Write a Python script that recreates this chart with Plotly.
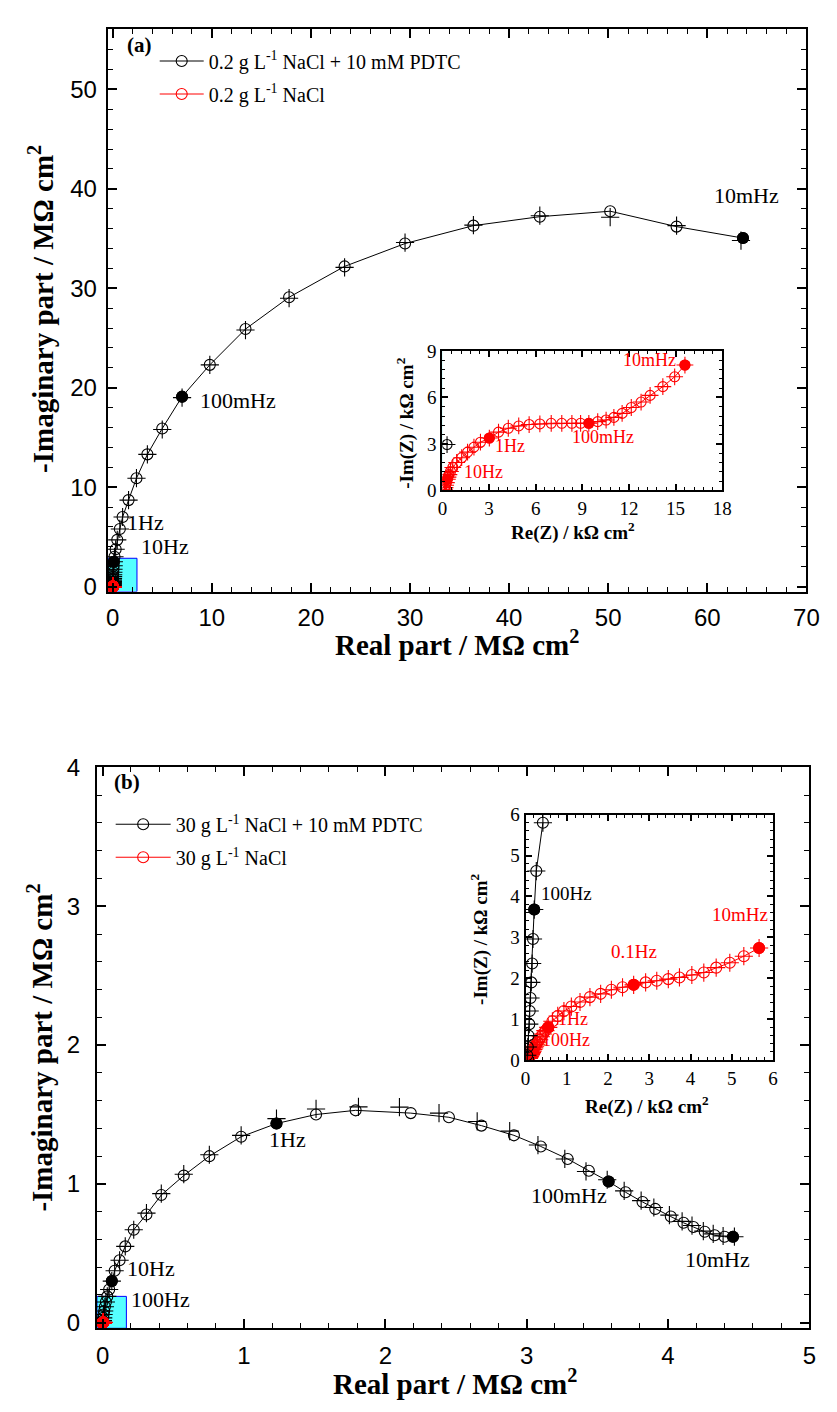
import plotly.graph_objects as go

W, H = 837, 1412

# ---------------- Panel (a): 0.2 g/L NaCl ----------------
# PDTC-containing solution, MΩ cm², from 10 mHz (index 0) upward in frequency
a_pdtc_re = [63.6, 56.9, 50.2, 43.1, 36.4, 29.5, 23.4, 17.8, 13.4, 9.8,
             7.0, 5.0, 3.5, 2.4, 1.6, 1.0, 0.72, 0.46, 0.30, 0.18,
             0.12, 0.10, 0.08, 0.065, 0.05, 0.04, 0.03, 0.025, 0.02, 0.015,
             0.012, 0.008, 0.005, 0.003, 0.0003]
a_pdtc_im = [35.05, 36.2, 37.75, 37.2, 36.3, 34.5, 32.2, 29.1, 25.9, 22.3,
             19.1, 15.9, 13.3, 10.9, 8.7, 7.0, 5.8, 4.7, 3.75, 3.0,
             2.5, 2.1, 1.75, 1.45, 1.2, 1.0, 0.8, 0.65, 0.5, 0.4,
             0.3, 0.2, 0.1, 0.05, 0.003]
a_pdtc_fit_re = [63.4, 56.9, 50.2, 43.1, 36.4, 29.5, 23.4, 17.8, 13.4, 9.8,
                 7.0, 5.0, 3.5, 2.4, 1.6, 1.0, 0.72, 0.46, 0.30, 0.18,
                 0.12, 0.10, 0.08, 0.065, 0.05, 0.04, 0.03, 0.025, 0.02, 0.015,
                 0.012, 0.008, 0.005, 0.003, 0.0003]
a_pdtc_fit_im = [34.8, 36.3, 37.15, 37.3, 36.35, 34.6, 32.1, 29.0, 25.8, 22.3,
                 19.0, 15.8, 13.3, 10.9, 8.7, 7.0, 5.8, 4.7, 3.75, 3.0,
                 2.5, 2.1, 1.75, 1.45, 1.2, 1.0, 0.8, 0.65, 0.5, 0.4,
                 0.3, 0.2, 0.1, 0.05, 0.003]
a_pdtc_decades = [0, 10, 20, 30]          # 10 mHz, 100 mHz, 1 Hz, 10 Hz

# NaCl-only solution, kΩ cm² (inset), from 10 mHz upward
a_nacl_re_k = [15.6, 14.94, 14.18, 13.36, 12.78, 12.15, 11.56, 11.03, 10.53, 9.99,
               9.42, 8.89, 8.33, 7.68, 7.0, 6.27, 5.58, 4.91, 4.24, 3.61,
               3.02, 2.45, 2.03, 1.62, 1.24, 0.92, 0.67, 0.52, 0.42, 0.36,
               0.32, 0.26, 0.21, 0.17, 0.14]
a_nacl_im_k = [8.09, 7.33, 6.70, 6.13, 5.70, 5.35, 4.97, 4.71, 4.54, 4.44,
               4.33, 4.33, 4.33, 4.33, 4.33, 4.29, 4.25, 4.16, 4.01, 3.76,
               3.38, 3.11, 2.79, 2.47, 2.11, 1.80, 1.48, 1.22, 1.02, 0.86,
               0.72, 0.5, 0.33, 0.18, 0.08]
a_nacl_decades = [0, 10, 20, 30]

# PDTC solution, high-frequency point visible in inset (kΩ cm²)
a_pdtc_inset_re_k = [0.3]
a_pdtc_inset_im_k = [2.96]

# ---------------- Panel (b): 30 g/L NaCl ----------------
b_pdtc_re = [4.46, 4.40, 4.33, 4.26, 4.18, 4.11, 4.02, 3.91, 3.82, 3.70,
             3.58, 3.44, 3.29, 3.10, 2.91, 2.68, 2.45, 2.18, 1.79, 1.51,
             1.23, 0.98, 0.755, 0.574, 0.415, 0.31, 0.22, 0.16, 0.12, 0.085,
             0.065, 0.046, 0.033, 0.023, 0.016, 0.011, 0.007, 0.004, 0.002, 0.0002]
b_pdtc_im = [0.62, 0.62, 0.63, 0.655, 0.69, 0.72, 0.765, 0.82, 0.87, 0.94,
             1.017, 1.095, 1.18, 1.27, 1.35, 1.42, 1.48, 1.51, 1.53, 1.50,
             1.435, 1.34, 1.20, 1.06, 0.92, 0.78, 0.67, 0.55, 0.45, 0.375,
             0.30, 0.24, 0.19, 0.15, 0.115, 0.085, 0.06, 0.035, 0.015, 0.0037]
b_pdtc_fit_re = [4.47, 4.39, 4.32, 4.25, 4.17, 4.10, 4.01, 3.90, 3.81, 3.69,
                 3.57, 3.42, 3.27, 3.08, 2.88, 2.65, 2.38, 2.10, 1.81, 1.51,
                 1.23, 0.98, 0.755, 0.574, 0.415, 0.31, 0.22, 0.16, 0.12, 0.085,
                 0.065, 0.046, 0.033, 0.023, 0.016, 0.011, 0.007, 0.004, 0.002, 0.0002]
b_pdtc_fit_im = [0.62, 0.625, 0.64, 0.66, 0.70, 0.73, 0.775, 0.83, 0.88, 0.95,
                 1.03, 1.09, 1.18, 1.28, 1.38, 1.45, 1.51, 1.553, 1.555, 1.54,
                 1.47, 1.35, 1.21, 1.07, 0.93, 0.79, 0.67, 0.55, 0.45, 0.375,
                 0.30, 0.24, 0.19, 0.15, 0.115, 0.085, 0.06, 0.035, 0.015, 0.0037]
b_pdtc_decades = [0, 10, 20, 30]

# NaCl-only, kΩ cm² (inset), from 10 mHz upward
b_nacl_re_k = [5.66, 5.29, 4.95, 4.62, 4.32, 4.03, 3.73, 3.46, 3.18, 2.91,
               2.62, 2.35, 2.08, 1.82, 1.56, 1.32, 1.11, 0.93, 0.78, 0.65,
               0.55, 0.48, 0.42, 0.37, 0.33, 0.29, 0.26, 0.23, 0.21, 0.19,
               0.17, 0.155, 0.14, 0.13, 0.12, 0.11, 0.10, 0.09, 0.085, 0.08,
               0.075]
b_nacl_im_k = [2.74, 2.54, 2.38, 2.26, 2.14, 2.08, 2.02, 1.98, 1.94, 1.90,
               1.84, 1.78, 1.72, 1.62, 1.54, 1.42, 1.31, 1.20, 1.08, 0.95,
               0.80, 0.72, 0.64, 0.57, 0.50, 0.44, 0.39, 0.34, 0.30, 0.26,
               0.22, 0.19, 0.16, 0.14, 0.12, 0.10, 0.085, 0.07, 0.06, 0.05,
               0.04]
b_nacl_decades = [0, 10, 20, 40]

# PDTC solution, high-frequency part in kΩ cm² (inset)
b_pdtc_inset_re_k = [0.42, 0.26, 0.21, 0.18, 0.16, 0.14, 0.12, 0.10, 0.09, 0.07, 0.055, 0.04]
b_pdtc_inset_im_k = [5.8, 4.62, 3.68, 2.96, 2.36, 1.90, 1.52, 1.20, 0.88, 0.60, 0.32, 0.12]
b_pdtc_inset_decades = [2]

# labels
a_legend = ["0.2 g L<sup>-1</sup> NaCl + 10 mM PDTC", "0.2 g L<sup>-1</sup> NaCl"]
b_legend = ["30 g L<sup>-1</sup> NaCl + 10 mM PDTC", "30 g L<sup>-1</sup> NaCl"]

SERIF = "Liberation Serif"
SANS = "Liberation Sans"
RED = "#FF0000"
BLACK = "#000000"
CYAN_IN = "#80FFFF"
CYAN_BOX = "#55FFFF"


def px_x(p):
    return p / W


def px_y(p):
    return 1 - p / H


fig = go.Figure()


def add_series(xs, ys, fx, fy, decades, color, xa, ya, name=None, legend=None,
               size=11, lw=1.0, show_line=True):
    fig.add_trace(go.Scatter(
        x=xs, y=ys, mode="lines+markers" if show_line else "markers",
        line=dict(color=color, width=lw),
        marker=dict(symbol="circle-open", size=size, color=color, line=dict(width=1.1, color=color)),
        xaxis=xa, yaxis=ya, name=name or "", showlegend=name is not None,
        legend=legend or "legend", legendgroup=name or None, cliponaxis=True))
    fig.add_trace(go.Scatter(
        x=fx, y=fy, mode="markers",
        marker=dict(symbol="cross-thin-open", size=size + 2, color=color, line=dict(width=1.1, color=color)),
        xaxis=xa, yaxis=ya, showlegend=False, cliponaxis=True))
    fig.add_trace(go.Scatter(
        x=[xs[i] for i in decades], y=[ys[i] for i in decades], mode="markers",
        marker=dict(symbol="circle", size=size + 1, color=color, line=dict(width=0)),
        xaxis=xa, yaxis=ya, showlegend=False, cliponaxis=True))


# ---- (a) main ----
add_series(a_pdtc_re, a_pdtc_im, a_pdtc_fit_re, a_pdtc_fit_im, a_pdtc_decades, BLACK,
           "x", "y", name=a_legend[0], legend="legend")
a_nacl_re_M = [v / 1000 for v in a_nacl_re_k]
a_nacl_im_M = [v / 1000 for v in a_nacl_im_k]
add_series(a_nacl_re_M, a_nacl_im_M, a_nacl_re_M, a_nacl_im_M, a_nacl_decades, RED,
           "x", "y", name=a_legend[1], legend="legend")

# ---- (a) inset ----
add_series(a_nacl_re_k, a_nacl_im_k, a_nacl_re_k, a_nacl_im_k, a_nacl_decades, RED,
           "x2", "y2", size=10)
add_series(a_pdtc_inset_re_k, a_pdtc_inset_im_k, a_pdtc_inset_re_k, a_pdtc_inset_im_k, [], BLACK,
           "x2", "y2", size=10, show_line=False)

# ---- (b) main ----
add_series(b_pdtc_re, b_pdtc_im, b_pdtc_fit_re, b_pdtc_fit_im, b_pdtc_decades, BLACK,
           "x3", "y3", name=b_legend[0], legend="legend2")
b_nacl_re_M = [v / 1000 for v in b_nacl_re_k]
b_nacl_im_M = [v / 1000 for v in b_nacl_im_k]
add_series(b_nacl_re_M, b_nacl_im_M, b_nacl_re_M, b_nacl_im_M, b_nacl_decades, RED,
           "x3", "y3", name=b_legend[1], legend="legend2")

# ---- (b) inset ----
add_series(b_nacl_re_k, b_nacl_im_k, b_nacl_re_k, b_nacl_im_k, b_nacl_decades, RED,
           "x4", "y4", size=11)
add_series(b_pdtc_inset_re_k, b_pdtc_inset_im_k, b_pdtc_inset_re_k, b_pdtc_inset_im_k,
           b_pdtc_inset_decades, BLACK, "x4", "y4", size=11)


def axis(domain, rng, dtick, minor_dtick, anchor, tickfont, ticklen=9, minorlen=5, lw=2, standoff=None):
    d = dict(domain=domain, range=rng, anchor=anchor, dtick=dtick, tick0=0,
             showline=True, linecolor="black", linewidth=lw, mirror="allticks",
             ticks="inside", ticklen=ticklen, tickwidth=1.5, tickcolor="black",
             minor=dict(dtick=minor_dtick, ticks="inside", ticklen=minorlen, tickwidth=1.3,
                        tickcolor="black", tick0=0),
             showgrid=False, zeroline=False, tickfont=tickfont, fixedrange=True)
    if standoff is not None:
        d["ticklabelstandoff"] = standoff
    return d


main_font = dict(family=SANS, size=24, color="black")
inset_font = dict(family=SERIF, size=19, color="black")

layout = dict(
    width=W, height=H, margin=dict(l=0, r=0, t=0, b=0),
    paper_bgcolor="white", plot_bgcolor="white", showlegend=True,
    xaxis=axis([px_x(105), px_x(819)], [-0.5, 70], 10, 2, "y", main_font, standoff=4),
    yaxis=axis([px_y(588), px_y(15)], [-0.5, 56.1], 10, 2, "x", main_font, standoff=4),
    xaxis2=axis([px_x(447), px_x(733)], [0, 18], 3, 0.6, "y2", inset_font, ticklen=6, minorlen=3),
    yaxis2=axis([px_y(485), px_y(343)], [0, 9], 3, 0.6, "x2", inset_font, ticklen=6, minorlen=3),
    xaxis3=axis([px_x(94), px_x(822)], [-0.04, 5], 1, 0.2, "y3", main_font, standoff=5),
    yaxis3=axis([px_y(1338), px_y(767)], [-0.04, 4], 1, 0.2, "x3", main_font, standoff=10),
    xaxis4=axis([px_x(532), px_x(785)], [0, 6], 1, 0.2, "y4", inset_font, ticklen=6, minorlen=3),
    yaxis4=axis([px_y(1065), px_y(815)], [0, 6], 1, 0.2, "x4", inset_font, ticklen=6, minorlen=3),
    legend=dict(x=px_x(153), y=px_y(28), xanchor="left", yanchor="top",
                font=dict(family=SERIF, size=20, color="black"), bgcolor="rgba(0,0,0,0)",
                tracegroupgap=4, itemwidth=44),
    legend2=dict(x=px_x(108), y=px_y(805), xanchor="left", yanchor="top",
                 font=dict(family=SERIF, size=20, color="black"), bgcolor="rgba(0,0,0,0)",
                 tracegroupgap=4, itemwidth=55),
)
fig.update_layout(**layout)

# cyan backgrounds for insets and zoom-boxes in main plots
fig.add_shape(type="rect", xref="x2 domain", yref="y2 domain", x0=0, x1=1, y0=0, y1=1,
              fillcolor=CYAN_IN, line=dict(width=0), layer="below")
fig.add_shape(type="rect", xref="x4 domain", yref="y4 domain", x0=0, x1=1, y0=0, y1=1,
              fillcolor=CYAN_IN, line=dict(width=0), layer="below")
fig.add_shape(type="rect", xref="x", yref="y", x0=-0.5, x1=2.45, y0=-0.5, y1=2.85,
              fillcolor=CYAN_BOX, line=dict(width=1, color="#0000FF"), layer="below")
fig.add_shape(type="rect", xref="x3", yref="y3", x0=-0.04, x1=0.168, y0=-0.04, y1=0.19,
              fillcolor=CYAN_BOX, line=dict(width=1, color="#0000FF"), layer="below")


def ann(text, x, y, xr, yr, size=22, color="black", bold=False, angle=0, xanchor="center", fam=SERIF):
    fig.add_annotation(text=("<b>%s</b>" % text) if bold else text, x=x, y=y, xref=xr, yref=yr,
                       showarrow=False, xanchor=xanchor, yanchor="middle", textangle=angle,
                       font=dict(family=fam, size=size, color=color))


# frequency labels (a) main
ann("10mHz", 64.0, 39.3, "x", "y")
ann("100mHz", 12.6, 18.7, "x", "y")
ann("1Hz", 3.3, 6.4, "x", "y")
ann("10Hz", 5.3, 4.05, "x", "y")
# (a) inset
ann("10mHz", 13.3, 8.43, "x2", "y2", size=18, color=RED)
ann("1Hz", 4.34, 2.85, "x2", "y2", size=18, color=RED)
ann("100mHz", 10.3, 3.42, "x2", "y2", size=18, color=RED)
ann("10Hz", 2.64, 1.2, "x2", "y2", size=18, color=RED)
# (b) main
ann("1Hz", 1.31, 1.32, "x3", "y3")
ann("100mHz", 3.30, 0.913, "x3", "y3")
ann("10mHz", 4.35, 0.453, "x3", "y3")
ann("10Hz", 0.34, 0.39, "x3", "y3")
ann("100Hz", 0.41, 0.17, "x3", "y3")
# (b) inset
ann("100Hz", 1.0, 4.06, "x4", "y4", size=19)
ann("10mHz", 5.19, 3.55, "x4", "y4", size=19, color=RED)
ann("0.1Hz", 2.63, 2.66, "x4", "y4", size=19, color=RED)
ann("1Hz", 1.16, 1.01, "x4", "y4", size=18, color=RED)
ann("100Hz", 0.97, 0.49, "x4", "y4", size=18, color=RED)

# panel tags
ann("(a)", px_x(137), px_y(32), "paper", "paper", size=21, bold=True)
ann("(b)", px_x(125), px_y(782), "paper", "paper", size=21, bold=True)

# axis titles
ann("Real part / MΩ cm<sup>2</sup>", px_x(462), px_y(640), "paper", "paper", size=29, bold=True)
ann("-Imaginary part / MΩ cm<sup>2</sup>", px_x(36), px_y(300), "paper", "paper", size=29, bold=True, angle=-90)
ann("Real part / MΩ cm<sup>2</sup>", px_x(460), px_y(1393), "paper", "paper", size=29, bold=True)
ann("-Imaginary part / MΩ cm<sup>2</sup>", px_x(36), px_y(1052), "paper", "paper", size=29, bold=True, angle=-90)
# inset titles
ann("Re(Z) / kΩ cm<sup>2</sup>", px_x(580), px_y(527), "paper", "paper", size=19, bold=True)
ann("-Im(Z) / kΩ cm<sup>2</sup>", px_x(409), px_y(417), "paper", "paper", size=19, bold=True, angle=-90)
ann("Re(Z) / kΩ cm<sup>2</sup>", px_x(656), px_y(1111), "paper", "paper", size=19, bold=True)
ann("-Im(Z) / kΩ cm<sup>2</sup>", px_x(485), px_y(942), "paper", "paper", size=19, bold=True, angle=-90)

fig.write_html("out.html")
